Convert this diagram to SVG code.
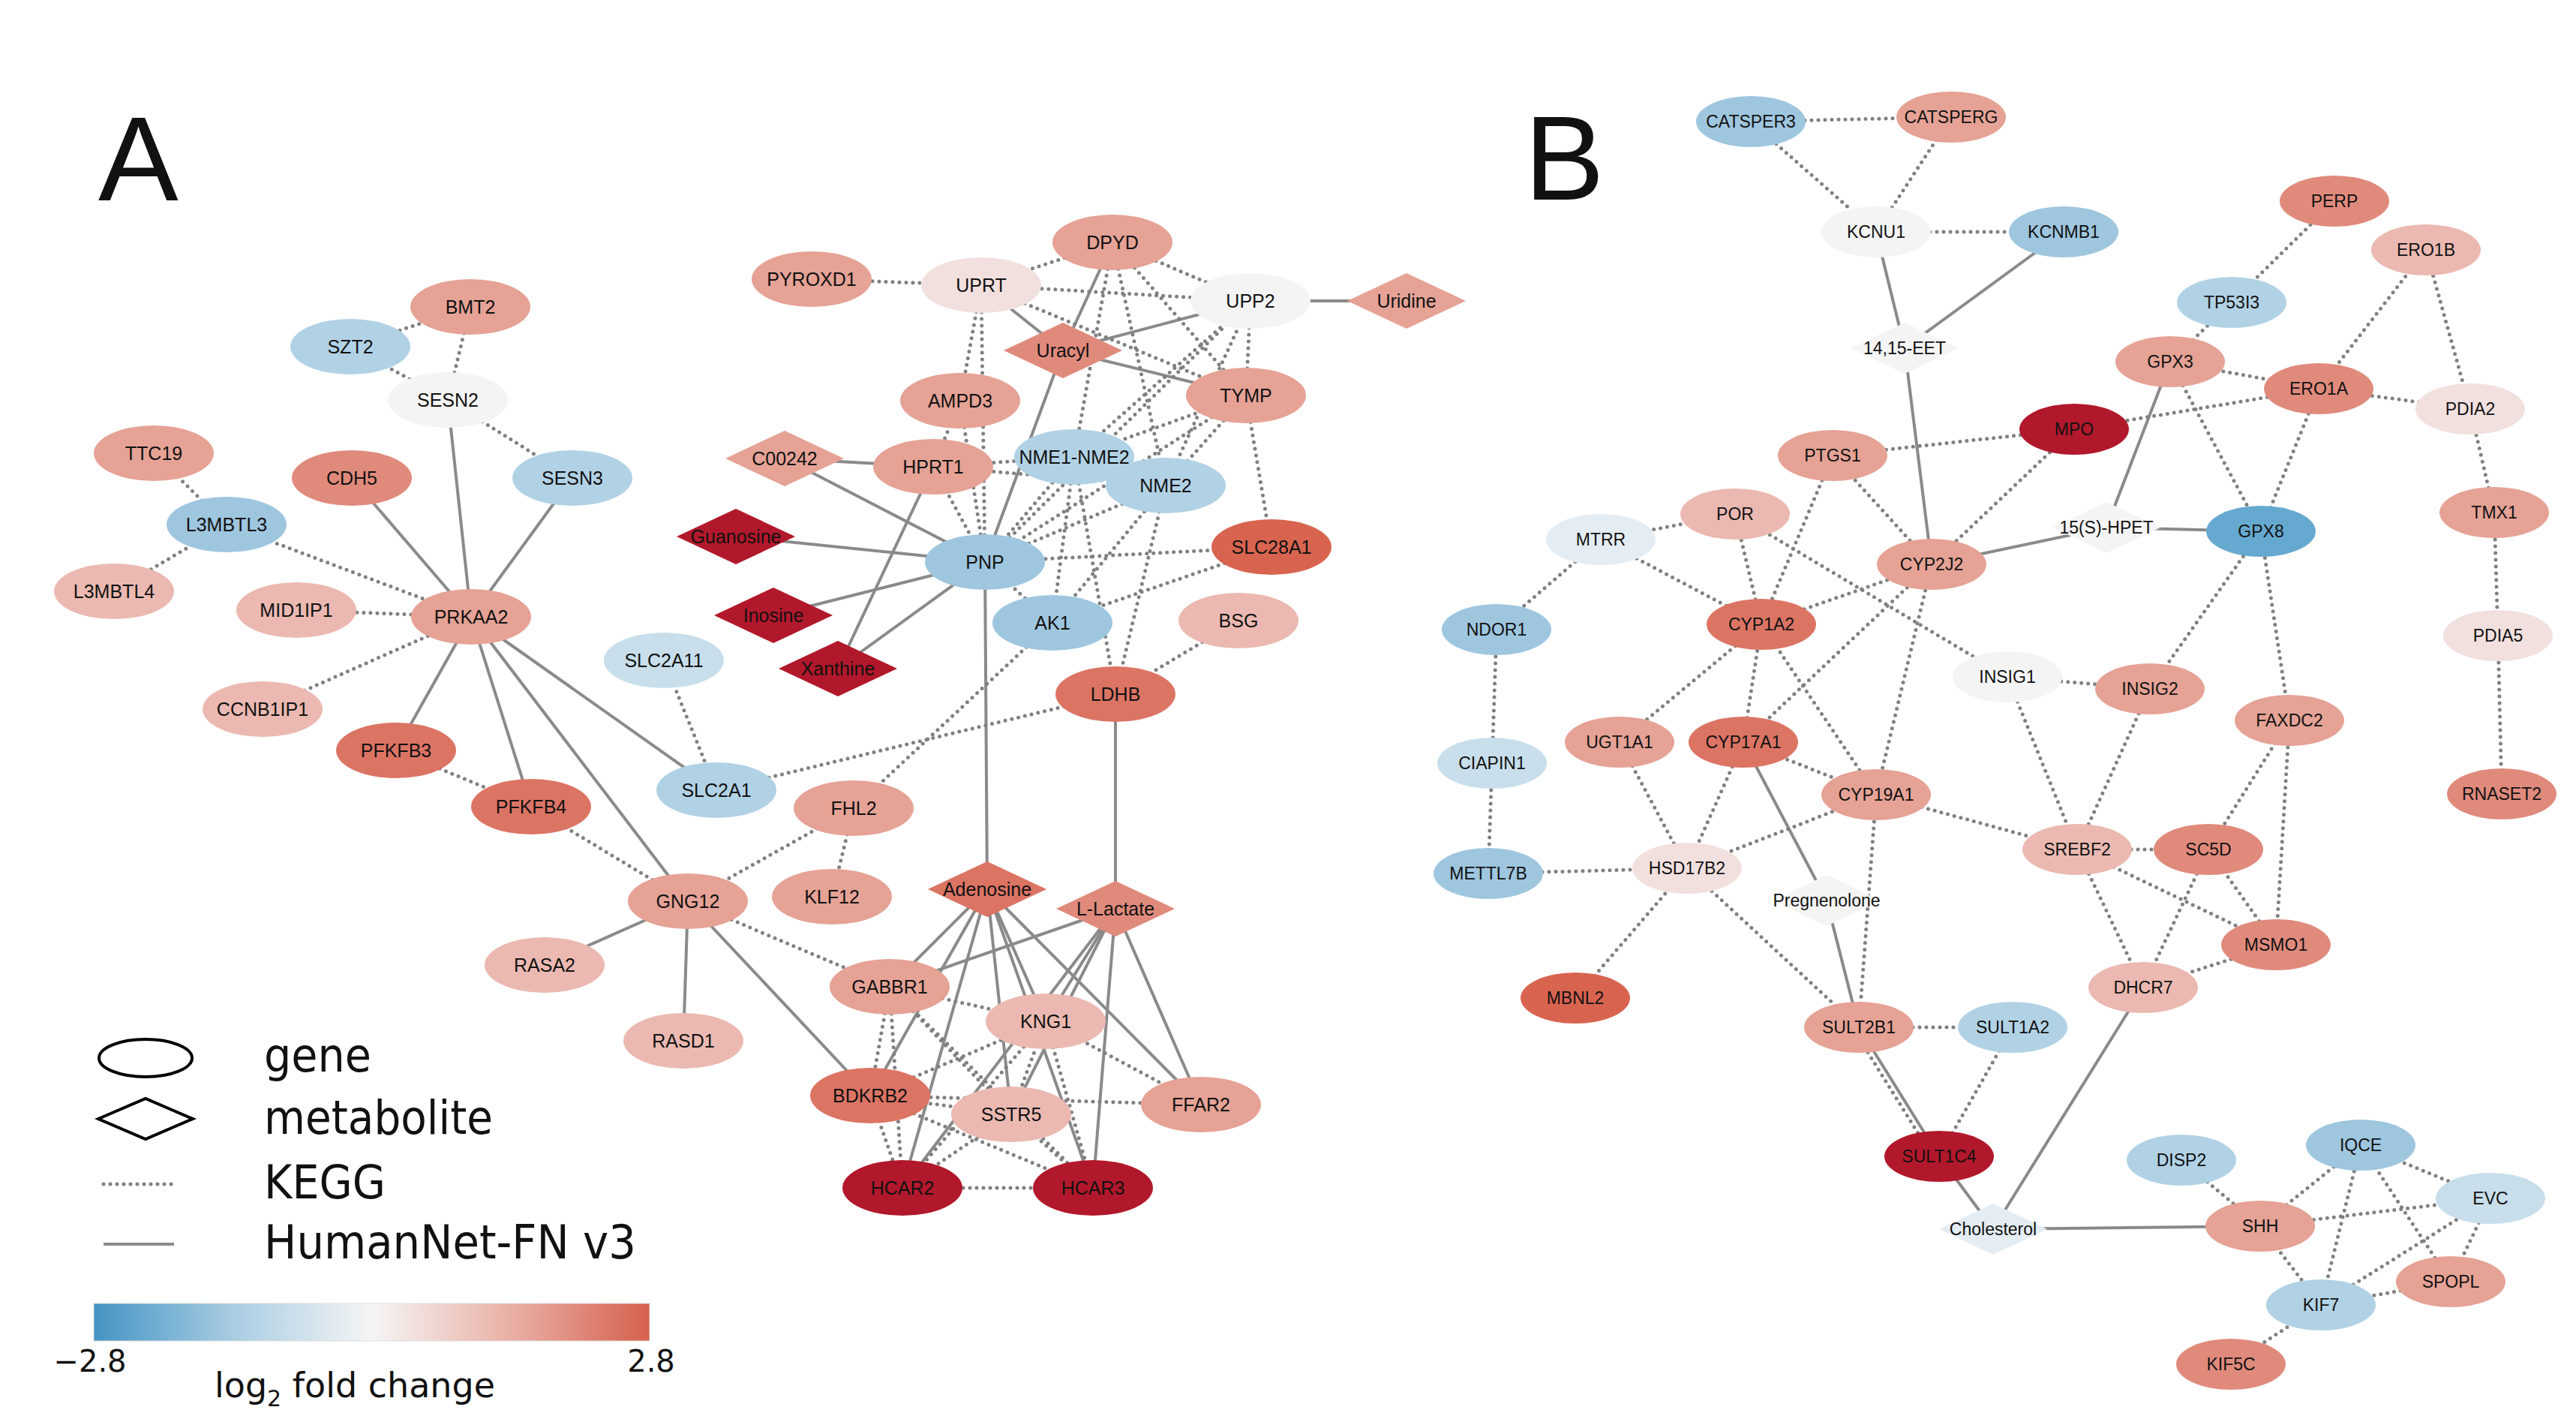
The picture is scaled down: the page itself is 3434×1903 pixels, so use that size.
<svg xmlns="http://www.w3.org/2000/svg" width="3434" height="1903" viewBox="0 0 3434 1903">
<style>
.h{stroke:#8a8a8a;stroke-width:4;fill:none}
.k{stroke:#808080;stroke-width:5;stroke-dasharray:0 9;stroke-linecap:round;fill:none}
text{font-family:"Liberation Sans",Arial,sans-serif;fill:#111;text-anchor:middle}
.a text{font-size:25px}
.b text{font-size:23px}
.lg{font-family:"DejaVu Sans",Verdana,sans-serif;text-anchor:start;font-size:62px}
.r5{fill:#b2182b}.r4{fill:#d86450}.r3{fill:#dc7464}.r2{fill:#e08a7c}.r1{fill:#e5a295}.r0{fill:#ebb9b1}.p0{fill:#f2e0de}.w{fill:#f4f4f4}.b0{fill:#e4edf3}.b1{fill:#c8deeb}.b2{fill:#b1d2e5}.b3{fill:#9ec6df}.b4{fill:#66a9d0}
</style>
<defs>
<linearGradient id="cb" x1="0" x2="1" y1="0" y2="0">
<stop offset="0" stop-color="#4393c3"/>
<stop offset="0.25" stop-color="#a9cde2"/>
<stop offset="0.5" stop-color="#f5f5f5"/>
<stop offset="0.75" stop-color="#e9b0a5"/>
<stop offset="1" stop-color="#d6604d"/>
</linearGradient>
</defs>
<rect x="0" y="0" width="3434" height="1903" fill="#fff"/>
<text x="131" y="267" style="font-size:160px;text-anchor:start">A</text>
<text x="2032" y="266" style="font-size:160px;text-anchor:start">B</text>

<g id="connectors">
<line class="h" x1="597" y1="533" x2="628" y2="822"/>
<line class="h" x1="469" y1="637" x2="628" y2="822"/>
<line class="h" x1="763" y1="637" x2="628" y2="822"/>
<line class="h" x1="628" y1="822" x2="528" y2="1000"/>
<line class="h" x1="628" y1="822" x2="708" y2="1075"/>
<line class="h" x1="628" y1="822" x2="917" y2="1201"/>
<line class="h" x1="628" y1="822" x2="955" y2="1053"/>
<line class="h" x1="917" y1="1201" x2="726" y2="1286"/>
<line class="h" x1="917" y1="1201" x2="911" y2="1387"/>
<line class="h" x1="917" y1="1201" x2="1160" y2="1460"/>
<line class="h" x1="1308" y1="380" x2="1417" y2="467"/>
<line class="h" x1="1483" y1="323" x2="1417" y2="467"/>
<line class="h" x1="1417" y1="467" x2="1667" y2="401"/>
<line class="h" x1="1417" y1="467" x2="1661" y2="527"/>
<line class="h" x1="1417" y1="467" x2="1313" y2="749"/>
<line class="h" x1="1667" y1="401" x2="1875" y2="401"/>
<line class="h" x1="1046" y1="611" x2="1244" y2="622"/>
<line class="h" x1="1046" y1="611" x2="1313" y2="749"/>
<line class="h" x1="981" y1="715" x2="1313" y2="749"/>
<line class="h" x1="1031" y1="820" x2="1313" y2="749"/>
<line class="h" x1="1117" y1="891" x2="1313" y2="749"/>
<line class="h" x1="1117" y1="891" x2="1244" y2="622"/>
<line class="h" x1="1313" y1="749" x2="1316" y2="1185"/>
<line class="h" x1="1487" y1="925" x2="1487" y2="1211"/>
<line class="h" x1="1316" y1="1185" x2="1186" y2="1315"/>
<line class="h" x1="1316" y1="1185" x2="1160" y2="1460"/>
<line class="h" x1="1316" y1="1185" x2="1203" y2="1583"/>
<line class="h" x1="1316" y1="1185" x2="1348" y2="1485"/>
<line class="h" x1="1316" y1="1185" x2="1394" y2="1361"/>
<line class="h" x1="1316" y1="1185" x2="1457" y2="1583"/>
<line class="h" x1="1316" y1="1185" x2="1601" y2="1472"/>
<line class="h" x1="1487" y1="1211" x2="1186" y2="1315"/>
<line class="h" x1="1487" y1="1211" x2="1394" y2="1361"/>
<line class="h" x1="1487" y1="1211" x2="1348" y2="1485"/>
<line class="h" x1="1487" y1="1211" x2="1203" y2="1583"/>
<line class="h" x1="1487" y1="1211" x2="1457" y2="1583"/>
<line class="h" x1="1487" y1="1211" x2="1601" y2="1472"/>
<line class="h" x1="2501" y1="309" x2="2539" y2="464"/>
<line class="h" x1="2751" y1="309" x2="2539" y2="464"/>
<line class="h" x1="2539" y1="464" x2="2575" y2="752"/>
<line class="h" x1="2575" y1="752" x2="2808" y2="703"/>
<line class="h" x1="2893" y1="482" x2="2808" y2="703"/>
<line class="h" x1="2808" y1="703" x2="3014" y2="708"/>
<line class="h" x1="2324" y1="989" x2="2435" y2="1200"/>
<line class="h" x1="2435" y1="1200" x2="2478" y2="1369"/>
<line class="h" x1="2478" y1="1369" x2="2585" y2="1541"/>
<line class="h" x1="2585" y1="1541" x2="2657" y2="1638"/>
<line class="h" x1="2857" y1="1316" x2="2657" y2="1638"/>
<line class="h" x1="2657" y1="1638" x2="3013" y2="1634"/>
<line class="k" x1="627" y1="409" x2="467" y2="462"/>
<line class="k" x1="627" y1="409" x2="597" y2="533"/>
<line class="k" x1="467" y1="462" x2="597" y2="533"/>
<line class="k" x1="597" y1="533" x2="763" y2="637"/>
<line class="k" x1="205" y1="604" x2="302" y2="699"/>
<line class="k" x1="302" y1="699" x2="152" y2="788"/>
<line class="k" x1="302" y1="699" x2="628" y2="822"/>
<line class="k" x1="395" y1="813" x2="628" y2="822"/>
<line class="k" x1="628" y1="822" x2="350" y2="945"/>
<line class="k" x1="528" y1="1000" x2="708" y2="1075"/>
<line class="k" x1="708" y1="1075" x2="917" y2="1201"/>
<line class="k" x1="885" y1="880" x2="955" y2="1053"/>
<line class="k" x1="917" y1="1201" x2="1138" y2="1077"/>
<line class="k" x1="917" y1="1201" x2="1186" y2="1315"/>
<line class="k" x1="955" y1="1053" x2="1487" y2="925"/>
<line class="k" x1="1138" y1="1077" x2="1109" y2="1195"/>
<line class="k" x1="1138" y1="1077" x2="1403" y2="830"/>
<line class="k" x1="1082" y1="372" x2="1308" y2="380"/>
<line class="k" x1="1308" y1="380" x2="1483" y2="323"/>
<line class="k" x1="1308" y1="380" x2="1667" y2="401"/>
<line class="k" x1="1308" y1="380" x2="1661" y2="527"/>
<line class="k" x1="1308" y1="380" x2="1280" y2="534"/>
<line class="k" x1="1308" y1="380" x2="1313" y2="749"/>
<line class="k" x1="1483" y1="323" x2="1667" y2="401"/>
<line class="k" x1="1483" y1="323" x2="1661" y2="527"/>
<line class="k" x1="1483" y1="323" x2="1432" y2="609"/>
<line class="k" x1="1483" y1="323" x2="1554" y2="647"/>
<line class="k" x1="1667" y1="401" x2="1661" y2="527"/>
<line class="k" x1="1667" y1="401" x2="1313" y2="749"/>
<line class="k" x1="1667" y1="401" x2="1432" y2="609"/>
<line class="k" x1="1667" y1="401" x2="1554" y2="647"/>
<line class="k" x1="1661" y1="527" x2="1432" y2="609"/>
<line class="k" x1="1661" y1="527" x2="1554" y2="647"/>
<line class="k" x1="1661" y1="527" x2="1313" y2="749"/>
<line class="k" x1="1661" y1="527" x2="1695" y2="729"/>
<line class="k" x1="1280" y1="534" x2="1244" y2="622"/>
<line class="k" x1="1280" y1="534" x2="1313" y2="749"/>
<line class="k" x1="1244" y1="622" x2="1432" y2="609"/>
<line class="k" x1="1244" y1="622" x2="1554" y2="647"/>
<line class="k" x1="1244" y1="622" x2="1313" y2="749"/>
<line class="k" x1="1432" y1="609" x2="1313" y2="749"/>
<line class="k" x1="1432" y1="609" x2="1403" y2="830"/>
<line class="k" x1="1432" y1="609" x2="1487" y2="925"/>
<line class="k" x1="1554" y1="647" x2="1313" y2="749"/>
<line class="k" x1="1554" y1="647" x2="1403" y2="830"/>
<line class="k" x1="1554" y1="647" x2="1487" y2="925"/>
<line class="k" x1="1313" y1="749" x2="1695" y2="729"/>
<line class="k" x1="1313" y1="749" x2="1403" y2="830"/>
<line class="k" x1="1403" y1="830" x2="1695" y2="729"/>
<line class="k" x1="1487" y1="925" x2="1651" y2="827"/>
<line class="k" x1="1186" y1="1315" x2="1394" y2="1361"/>
<line class="k" x1="1186" y1="1315" x2="1160" y2="1460"/>
<line class="k" x1="1186" y1="1315" x2="1203" y2="1583"/>
<line class="k" x1="1186" y1="1315" x2="1348" y2="1485"/>
<line class="k" x1="1186" y1="1315" x2="1457" y2="1583"/>
<line class="k" x1="1160" y1="1460" x2="1394" y2="1361"/>
<line class="k" x1="1160" y1="1460" x2="1348" y2="1485"/>
<line class="k" x1="1160" y1="1460" x2="1601" y2="1472"/>
<line class="k" x1="1160" y1="1460" x2="1457" y2="1583"/>
<line class="k" x1="1160" y1="1460" x2="1203" y2="1583"/>
<line class="k" x1="1394" y1="1361" x2="1348" y2="1485"/>
<line class="k" x1="1394" y1="1361" x2="1601" y2="1472"/>
<line class="k" x1="1394" y1="1361" x2="1203" y2="1583"/>
<line class="k" x1="1394" y1="1361" x2="1457" y2="1583"/>
<line class="k" x1="1348" y1="1485" x2="1203" y2="1583"/>
<line class="k" x1="1348" y1="1485" x2="1457" y2="1583"/>
<line class="k" x1="1203" y1="1583" x2="1457" y2="1583"/>
<line class="k" x1="2334" y1="162" x2="2601" y2="156"/>
<line class="k" x1="2334" y1="162" x2="2501" y2="309"/>
<line class="k" x1="2601" y1="156" x2="2501" y2="309"/>
<line class="k" x1="2501" y1="309" x2="2751" y2="309"/>
<line class="k" x1="3112" y1="268" x2="2975" y2="403"/>
<line class="k" x1="2975" y1="403" x2="2893" y2="482"/>
<line class="k" x1="2893" y1="482" x2="3091" y2="518"/>
<line class="k" x1="2893" y1="482" x2="3014" y2="708"/>
<line class="k" x1="3091" y1="518" x2="3234" y2="333"/>
<line class="k" x1="3091" y1="518" x2="3293" y2="545"/>
<line class="k" x1="3091" y1="518" x2="3014" y2="708"/>
<line class="k" x1="3234" y1="333" x2="3293" y2="545"/>
<line class="k" x1="3293" y1="545" x2="3325" y2="683"/>
<line class="k" x1="3325" y1="683" x2="3330" y2="847"/>
<line class="k" x1="3330" y1="847" x2="3335" y2="1058"/>
<line class="k" x1="2765" y1="572" x2="3091" y2="518"/>
<line class="k" x1="2765" y1="572" x2="2443" y2="607"/>
<line class="k" x1="2765" y1="572" x2="2575" y2="752"/>
<line class="k" x1="2443" y1="607" x2="2575" y2="752"/>
<line class="k" x1="2443" y1="607" x2="2348" y2="832"/>
<line class="k" x1="2134" y1="719" x2="2313" y2="685"/>
<line class="k" x1="2134" y1="719" x2="1995" y2="839"/>
<line class="k" x1="2134" y1="719" x2="2348" y2="832"/>
<line class="k" x1="2313" y1="685" x2="2348" y2="832"/>
<line class="k" x1="2313" y1="685" x2="2676" y2="902"/>
<line class="k" x1="2575" y1="752" x2="2348" y2="832"/>
<line class="k" x1="2575" y1="752" x2="2324" y2="989"/>
<line class="k" x1="2575" y1="752" x2="2501" y2="1059"/>
<line class="k" x1="2348" y1="832" x2="2159" y2="989"/>
<line class="k" x1="2348" y1="832" x2="2324" y2="989"/>
<line class="k" x1="2348" y1="832" x2="2501" y2="1059"/>
<line class="k" x1="1995" y1="839" x2="1989" y2="1017"/>
<line class="k" x1="1989" y1="1017" x2="1984" y2="1164"/>
<line class="k" x1="1984" y1="1164" x2="2249" y2="1157"/>
<line class="k" x1="2159" y1="989" x2="2249" y2="1157"/>
<line class="k" x1="2324" y1="989" x2="2249" y2="1157"/>
<line class="k" x1="2324" y1="989" x2="2501" y2="1059"/>
<line class="k" x1="2501" y1="1059" x2="2249" y2="1157"/>
<line class="k" x1="2501" y1="1059" x2="2769" y2="1132"/>
<line class="k" x1="2501" y1="1059" x2="2478" y2="1369"/>
<line class="k" x1="2249" y1="1157" x2="2100" y2="1330"/>
<line class="k" x1="2249" y1="1157" x2="2478" y2="1369"/>
<line class="k" x1="2676" y1="902" x2="2866" y2="918"/>
<line class="k" x1="2676" y1="902" x2="2769" y2="1132"/>
<line class="k" x1="2866" y1="918" x2="2769" y2="1132"/>
<line class="k" x1="2866" y1="918" x2="3014" y2="708"/>
<line class="k" x1="3014" y1="708" x2="3052" y2="960"/>
<line class="k" x1="3052" y1="960" x2="2944" y2="1132"/>
<line class="k" x1="3052" y1="960" x2="3034" y2="1259"/>
<line class="k" x1="2769" y1="1132" x2="2944" y2="1132"/>
<line class="k" x1="2769" y1="1132" x2="3034" y2="1259"/>
<line class="k" x1="2769" y1="1132" x2="2857" y2="1316"/>
<line class="k" x1="2944" y1="1132" x2="2857" y2="1316"/>
<line class="k" x1="2944" y1="1132" x2="3034" y2="1259"/>
<line class="k" x1="3034" y1="1259" x2="2857" y2="1316"/>
<line class="k" x1="2478" y1="1369" x2="2683" y2="1369"/>
<line class="k" x1="2683" y1="1369" x2="2585" y2="1541"/>
<line class="k" x1="2471" y1="1372" x2="2578" y2="1544"/>
<line class="k" x1="2908" y1="1546" x2="3013" y2="1634"/>
<line class="k" x1="3013" y1="1634" x2="3147" y2="1526"/>
<line class="k" x1="3013" y1="1634" x2="3320" y2="1597"/>
<line class="k" x1="3013" y1="1634" x2="3094" y2="1739"/>
<line class="k" x1="3147" y1="1526" x2="3320" y2="1597"/>
<line class="k" x1="3147" y1="1526" x2="3094" y2="1739"/>
<line class="k" x1="3147" y1="1526" x2="3267" y2="1708"/>
<line class="k" x1="3320" y1="1597" x2="3094" y2="1739"/>
<line class="k" x1="3320" y1="1597" x2="3267" y2="1708"/>
<line class="k" x1="3094" y1="1739" x2="3267" y2="1708"/>
<line class="k" x1="3094" y1="1739" x2="2974" y2="1818"/>
</g>

<g class="a">
<g id="n-BMT2"><ellipse class="r1" cx="627" cy="409" rx="80" ry="37"/><text x="627" y="418">BMT2</text></g>
<g id="n-SZT2"><ellipse class="b2" cx="467" cy="462" rx="80" ry="37"/><text x="467" y="471">SZT2</text></g>
<g id="n-SESN2"><ellipse class="w" cx="597" cy="533" rx="80" ry="37"/><text x="597" y="542">SESN2</text></g>
<g id="n-SESN3"><ellipse class="b2" cx="763" cy="637" rx="80" ry="37"/><text x="763" y="646">SESN3</text></g>
<g id="n-TTC19"><ellipse class="r1" cx="205" cy="604" rx="80" ry="37"/><text x="205" y="613">TTC19</text></g>
<g id="n-CDH5"><ellipse class="r2" cx="469" cy="637" rx="80" ry="37"/><text x="469" y="646">CDH5</text></g>
<g id="n-L3MBTL3"><ellipse class="b3" cx="302" cy="699" rx="80" ry="37"/><text x="302" y="708">L3MBTL3</text></g>
<g id="n-L3MBTL4"><ellipse class="r0" cx="152" cy="788" rx="80" ry="37"/><text x="152" y="797">L3MBTL4</text></g>
<g id="n-MID1IP1"><ellipse class="r0" cx="395" cy="813" rx="80" ry="37"/><text x="395" y="822">MID1IP1</text></g>
<g id="n-PRKAA2"><ellipse class="r1" cx="628" cy="822" rx="80" ry="37"/><text x="628" y="831">PRKAA2</text></g>
<g id="n-SLC2A11"><ellipse class="b1" cx="885" cy="880" rx="80" ry="37"/><text x="885" y="889">SLC2A11</text></g>
<g id="n-CCNB1IP1"><ellipse class="r0" cx="350" cy="945" rx="80" ry="37"/><text x="350" y="954">CCNB1IP1</text></g>
<g id="n-PFKFB3"><ellipse class="r3" cx="528" cy="1000" rx="80" ry="37"/><text x="528" y="1009">PFKFB3</text></g>
<g id="n-PFKFB4"><ellipse class="r3" cx="708" cy="1075" rx="80" ry="37"/><text x="708" y="1084">PFKFB4</text></g>
<g id="n-SLC2A1"><ellipse class="b2" cx="955" cy="1053" rx="80" ry="37"/><text x="955" y="1062">SLC2A1</text></g>
<g id="n-GNG12"><ellipse class="r1" cx="917" cy="1201" rx="80" ry="37"/><text x="917" y="1210">GNG12</text></g>
<g id="n-RASA2"><ellipse class="r0" cx="726" cy="1286" rx="80" ry="37"/><text x="726" y="1295">RASA2</text></g>
<g id="n-RASD1"><ellipse class="r0" cx="911" cy="1387" rx="80" ry="37"/><text x="911" y="1396">RASD1</text></g>
<g id="n-FHL2"><ellipse class="r1" cx="1138" cy="1077" rx="80" ry="37"/><text x="1138" y="1086">FHL2</text></g>
<g id="n-KLF12"><ellipse class="r1" cx="1109" cy="1195" rx="80" ry="37"/><text x="1109" y="1204">KLF12</text></g>
<g id="n-PYROXD1"><ellipse class="r1" cx="1082" cy="372" rx="80" ry="37"/><text x="1082" y="381">PYROXD1</text></g>
<g id="n-UPRT"><ellipse class="p0" cx="1308" cy="380" rx="80" ry="37"/><text x="1308" y="389">UPRT</text></g>
<g id="n-DPYD"><ellipse class="r1" cx="1483" cy="323" rx="80" ry="37"/><text x="1483" y="332">DPYD</text></g>
<g id="n-UPP2"><ellipse class="w" cx="1667" cy="401" rx="80" ry="37"/><text x="1667" y="410">UPP2</text></g>
<g id="n-Uridine"><polygon class="r1" points="1796,401 1875,364 1954,401 1875,438"/><text x="1875" y="410">Uridine</text></g>
<g id="n-Uracyl"><polygon class="r2" points="1338,467 1417,430 1496,467 1417,504"/><text x="1417" y="476">Uracyl</text></g>
<g id="n-AMPD3"><ellipse class="r1" cx="1280" cy="534" rx="80" ry="37"/><text x="1280" y="543">AMPD3</text></g>
<g id="n-TYMP"><ellipse class="r1" cx="1661" cy="527" rx="80" ry="37"/><text x="1661" y="536">TYMP</text></g>
<g id="n-C00242"><polygon class="r1" points="967,611 1046,574 1125,611 1046,648"/><text x="1046" y="620">C00242</text></g>
<g id="n-HPRT1"><ellipse class="r1" cx="1244" cy="622" rx="80" ry="37"/><text x="1244" y="631">HPRT1</text></g>
<g id="n-NME1-NME2"><ellipse class="b2" cx="1432" cy="609" rx="80" ry="37"/><text x="1432" y="618">NME1-NME2</text></g>
<g id="n-NME2"><ellipse class="b2" cx="1554" cy="647" rx="80" ry="37"/><text x="1554" y="656">NME2</text></g>
<g id="n-Guanosine"><polygon class="r5" points="902,715 981,678 1060,715 981,752"/><text x="981" y="724">Guanosine</text></g>
<g id="n-PNP"><ellipse class="b3" cx="1313" cy="749" rx="80" ry="37"/><text x="1313" y="758">PNP</text></g>
<g id="n-SLC28A1"><ellipse class="r4" cx="1695" cy="729" rx="80" ry="37"/><text x="1695" y="738">SLC28A1</text></g>
<g id="n-Inosine"><polygon class="r5" points="952,820 1031,783 1110,820 1031,857"/><text x="1031" y="829">Inosine</text></g>
<g id="n-AK1"><ellipse class="b3" cx="1403" cy="830" rx="80" ry="37"/><text x="1403" y="839">AK1</text></g>
<g id="n-BSG"><ellipse class="r0" cx="1651" cy="827" rx="80" ry="37"/><text x="1651" y="836">BSG</text></g>
<g id="n-Xanthine"><polygon class="r5" points="1038,891 1117,854 1196,891 1117,928"/><text x="1117" y="900">Xanthine</text></g>
<g id="n-LDHB"><ellipse class="r3" cx="1487" cy="925" rx="80" ry="37"/><text x="1487" y="934">LDHB</text></g>
<g id="n-Adenosine"><polygon class="r3" points="1237,1185 1316,1148 1395,1185 1316,1222"/><text x="1316" y="1194">Adenosine</text></g>
<g id="n-L-Lactate"><polygon class="r2" points="1408,1211 1487,1174 1566,1211 1487,1248"/><text x="1487" y="1220">L-Lactate</text></g>
<g id="n-GABBR1"><ellipse class="r1" cx="1186" cy="1315" rx="80" ry="37"/><text x="1186" y="1324">GABBR1</text></g>
<g id="n-KNG1"><ellipse class="r0" cx="1394" cy="1361" rx="80" ry="37"/><text x="1394" y="1370">KNG1</text></g>
<g id="n-BDKRB2"><ellipse class="r3" cx="1160" cy="1460" rx="80" ry="37"/><text x="1160" y="1469">BDKRB2</text></g>
<g id="n-SSTR5"><ellipse class="r0" cx="1348" cy="1485" rx="80" ry="37"/><text x="1348" y="1494">SSTR5</text></g>
<g id="n-FFAR2"><ellipse class="r1" cx="1601" cy="1472" rx="80" ry="37"/><text x="1601" y="1481">FFAR2</text></g>
<g id="n-HCAR2"><ellipse class="r5" cx="1203" cy="1583" rx="80" ry="37"/><text x="1203" y="1592">HCAR2</text></g>
<g id="n-HCAR3"><ellipse class="r5" cx="1457" cy="1583" rx="80" ry="37"/><text x="1457" y="1592">HCAR3</text></g>
</g>

<g class="b">
<g id="n-CATSPER3"><ellipse class="b3" cx="2334" cy="162" rx="73" ry="34"/><text x="2334" y="170">CATSPER3</text></g>
<g id="n-CATSPERG"><ellipse class="r1" cx="2601" cy="156" rx="73" ry="34"/><text x="2601" y="164">CATSPERG</text></g>
<g id="n-KCNU1"><ellipse class="w" cx="2501" cy="309" rx="73" ry="34"/><text x="2501" y="317">KCNU1</text></g>
<g id="n-KCNMB1"><ellipse class="b3" cx="2751" cy="309" rx="73" ry="34"/><text x="2751" y="317">KCNMB1</text></g>
<g id="n-14_15-EET"><polygon class="w" points="2467,464 2539,430 2611,464 2539,498"/><text x="2539" y="472">14,15-EET</text></g>
<g id="n-PERP"><ellipse class="r2" cx="3112" cy="268" rx="73" ry="34"/><text x="3112" y="276">PERP</text></g>
<g id="n-ERO1B"><ellipse class="r0" cx="3234" cy="333" rx="73" ry="34"/><text x="3234" y="341">ERO1B</text></g>
<g id="n-TP53I3"><ellipse class="b2" cx="2975" cy="403" rx="73" ry="34"/><text x="2975" y="411">TP53I3</text></g>
<g id="n-GPX3"><ellipse class="r1" cx="2893" cy="482" rx="73" ry="34"/><text x="2893" y="490">GPX3</text></g>
<g id="n-ERO1A"><ellipse class="r2" cx="3091" cy="518" rx="73" ry="34"/><text x="3091" y="526">ERO1A</text></g>
<g id="n-PDIA2"><ellipse class="p0" cx="3293" cy="545" rx="73" ry="34"/><text x="3293" y="553">PDIA2</text></g>
<g id="n-MPO"><ellipse class="r5" cx="2765" cy="572" rx="73" ry="34"/><text x="2765" y="580">MPO</text></g>
<g id="n-PTGS1"><ellipse class="r1" cx="2443" cy="607" rx="73" ry="34"/><text x="2443" y="615">PTGS1</text></g>
<g id="n-POR"><ellipse class="r0" cx="2313" cy="685" rx="73" ry="34"/><text x="2313" y="693">POR</text></g>
<g id="n-MTRR"><ellipse class="b0" cx="2134" cy="719" rx="73" ry="34"/><text x="2134" y="727">MTRR</text></g>
<g id="n-15S-HPET"><polygon class="w" points="2736,703 2808,669 2880,703 2808,737"/><text x="2808" y="711">15(S)-HPET</text></g>
<g id="n-GPX8"><ellipse class="b4" cx="3014" cy="708" rx="73" ry="34"/><text x="3014" y="716">GPX8</text></g>
<g id="n-TMX1"><ellipse class="r1" cx="3325" cy="683" rx="73" ry="34"/><text x="3325" y="691">TMX1</text></g>
<g id="n-CYP2J2"><ellipse class="r1" cx="2575" cy="752" rx="73" ry="34"/><text x="2575" y="760">CYP2J2</text></g>
<g id="n-NDOR1"><ellipse class="b3" cx="1995" cy="839" rx="73" ry="34"/><text x="1995" y="847">NDOR1</text></g>
<g id="n-CYP1A2"><ellipse class="r3" cx="2348" cy="832" rx="73" ry="34"/><text x="2348" y="840">CYP1A2</text></g>
<g id="n-PDIA5"><ellipse class="p0" cx="3330" cy="847" rx="73" ry="34"/><text x="3330" y="855">PDIA5</text></g>
<g id="n-INSIG1"><ellipse class="w" cx="2676" cy="902" rx="73" ry="34"/><text x="2676" y="910">INSIG1</text></g>
<g id="n-INSIG2"><ellipse class="r1" cx="2866" cy="918" rx="73" ry="34"/><text x="2866" y="926">INSIG2</text></g>
<g id="n-FAXDC2"><ellipse class="r1" cx="3052" cy="960" rx="73" ry="34"/><text x="3052" y="968">FAXDC2</text></g>
<g id="n-UGT1A1"><ellipse class="r1" cx="2159" cy="989" rx="73" ry="34"/><text x="2159" y="997">UGT1A1</text></g>
<g id="n-CYP17A1"><ellipse class="r3" cx="2324" cy="989" rx="73" ry="34"/><text x="2324" y="997">CYP17A1</text></g>
<g id="n-CIAPIN1"><ellipse class="b1" cx="1989" cy="1017" rx="73" ry="34"/><text x="1989" y="1025">CIAPIN1</text></g>
<g id="n-CYP19A1"><ellipse class="r1" cx="2501" cy="1059" rx="73" ry="34"/><text x="2501" y="1067">CYP19A1</text></g>
<g id="n-RNASET2"><ellipse class="r2" cx="3335" cy="1058" rx="73" ry="34"/><text x="3335" y="1066">RNASET2</text></g>
<g id="n-SREBF2"><ellipse class="r0" cx="2769" cy="1132" rx="73" ry="34"/><text x="2769" y="1140">SREBF2</text></g>
<g id="n-SC5D"><ellipse class="r2" cx="2944" cy="1132" rx="73" ry="34"/><text x="2944" y="1140">SC5D</text></g>
<g id="n-METTL7B"><ellipse class="b3" cx="1984" cy="1164" rx="73" ry="34"/><text x="1984" y="1172">METTL7B</text></g>
<g id="n-HSD17B2"><ellipse class="p0" cx="2249" cy="1157" rx="73" ry="34"/><text x="2249" y="1165">HSD17B2</text></g>
<g id="n-Pregnenolone"><polygon class="w" points="2363,1200 2435,1166 2507,1200 2435,1234"/><text x="2435" y="1208">Pregnenolone</text></g>
<g id="n-MSMO1"><ellipse class="r2" cx="3034" cy="1259" rx="73" ry="34"/><text x="3034" y="1267">MSMO1</text></g>
<g id="n-MBNL2"><ellipse class="r4" cx="2100" cy="1330" rx="73" ry="34"/><text x="2100" y="1338">MBNL2</text></g>
<g id="n-DHCR7"><ellipse class="r0" cx="2857" cy="1316" rx="73" ry="34"/><text x="2857" y="1324">DHCR7</text></g>
<g id="n-SULT2B1"><ellipse class="r1" cx="2478" cy="1369" rx="73" ry="34"/><text x="2478" y="1377">SULT2B1</text></g>
<g id="n-SULT1A2"><ellipse class="b2" cx="2683" cy="1369" rx="73" ry="34"/><text x="2683" y="1377">SULT1A2</text></g>
<g id="n-SULT1C4"><ellipse class="r5" cx="2585" cy="1541" rx="73" ry="34"/><text x="2585" y="1549">SULT1C4</text></g>
<g id="n-DISP2"><ellipse class="b2" cx="2908" cy="1546" rx="73" ry="34"/><text x="2908" y="1554">DISP2</text></g>
<g id="n-IQCE"><ellipse class="b3" cx="3147" cy="1526" rx="73" ry="34"/><text x="3147" y="1534">IQCE</text></g>
<g id="n-EVC"><ellipse class="b1" cx="3320" cy="1597" rx="73" ry="34"/><text x="3320" y="1605">EVC</text></g>
<g id="n-Cholesterol"><polygon class="b0" points="2585,1638 2657,1604 2729,1638 2657,1672"/><text x="2657" y="1646">Cholesterol</text></g>
<g id="n-SHH"><ellipse class="r1" cx="3013" cy="1634" rx="73" ry="34"/><text x="3013" y="1642">SHH</text></g>
<g id="n-SPOPL"><ellipse class="r1" cx="3267" cy="1708" rx="73" ry="34"/><text x="3267" y="1716">SPOPL</text></g>
<g id="n-KIF7"><ellipse class="b2" cx="3094" cy="1739" rx="73" ry="34"/><text x="3094" y="1747">KIF7</text></g>
<g id="n-KIF5C"><ellipse class="r2" cx="2974" cy="1818" rx="73" ry="34"/><text x="2974" y="1826">KIF5C</text></g>
</g>

<g id="legend">
<ellipse cx="194" cy="1410" rx="62" ry="25" fill="#fff" stroke="#000" stroke-width="4"/>
<text class="lg" x="352" y="1428" textLength="143" lengthAdjust="spacingAndGlyphs">gene</text>
<polygon points="131,1491 194,1464 257,1491 194,1518" fill="#fff" stroke="#000" stroke-width="4"/>
<text class="lg" x="352" y="1511" textLength="305" lengthAdjust="spacingAndGlyphs">metabolite</text>
<line class="k" x1="138" y1="1578" x2="230" y2="1578"/>
<text class="lg" x="352" y="1597" textLength="162" lengthAdjust="spacingAndGlyphs">KEGG</text>
<line class="h" x1="138" y1="1658" x2="232" y2="1658"/>
<text class="lg" x="352" y="1677" textLength="496" lengthAdjust="spacingAndGlyphs">HumanNet-FN v3</text>
<rect x="125" y="1737" width="741" height="50" fill="url(#cb)" stroke="#ddd" stroke-width="1"/>
<text x="120" y="1828" style="font-family:'DejaVu Sans',sans-serif;font-size:40px">−2.8</text>
<text x="868" y="1828" style="font-family:'DejaVu Sans',sans-serif;font-size:40px">2.8</text>
<text x="473" y="1862" style="font-family:'DejaVu Sans',sans-serif;font-size:46px">log<tspan font-size="30" dy="12">2</tspan><tspan dy="-12"> fold change</tspan></text>
</g>
</svg>
